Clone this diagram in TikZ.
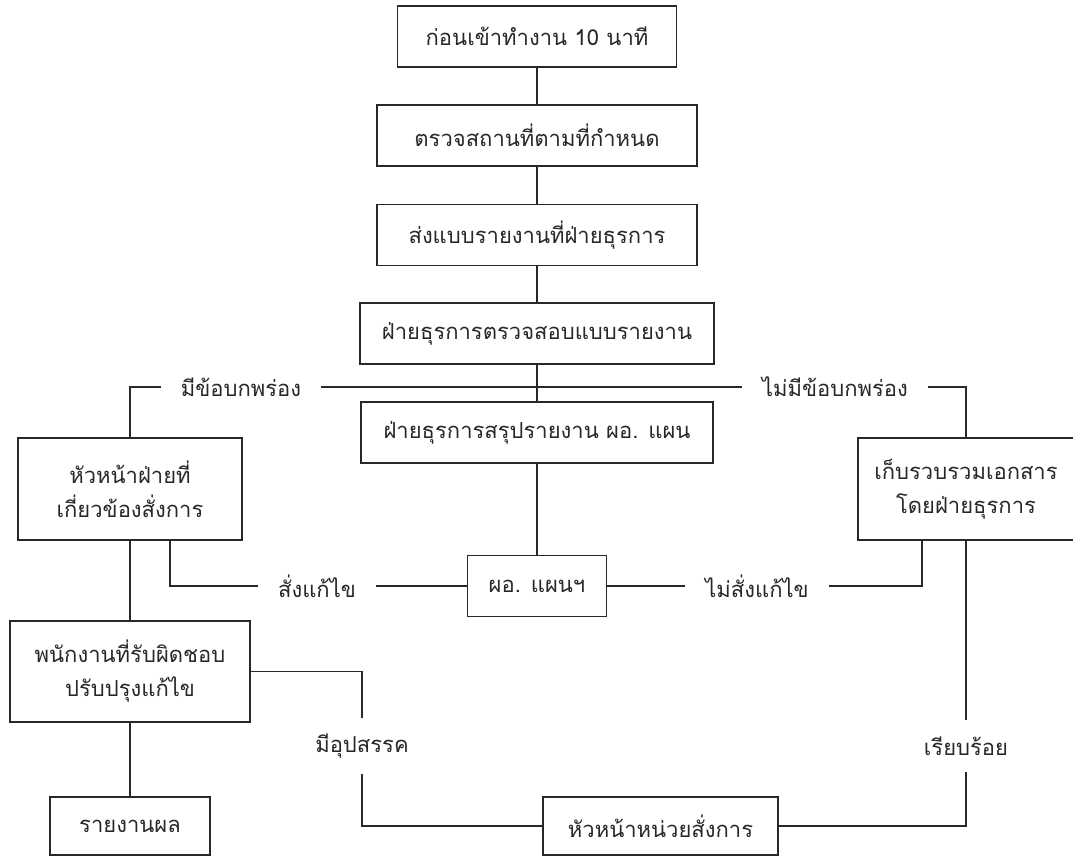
\documentclass[tikz,border=0pt]{standalone}
\usepackage{fontspec}
\newfontfamily\thaifont[Script=Thai]{Loma}
\usetikzlibrary{positioning,calc}
\definecolor{inkgray}{RGB}{40,40,40}

\begin{document}
\begin{tikzpicture}[
    x=1pt, y=-1pt,
    box/.style={rectangle, draw=inkgray, line width=1.3pt, align=center, minimum height=61pt, text=inkgray, font=\thaifont\fontsize{22}{34}\selectfont},
    tall/.style={box, minimum height=102pt},
    label/.style={inner xsep=20pt, inner ysep=16pt, text=inkgray, font=\thaifont\fontsize{22}{34}\selectfont},
    link/.style={draw=inkgray, line width=1.2pt}
]
\useasboundingbox (0,0) rectangle (1073,856);

% === MAIN COLUMN ===
\node[box, minimum width=279pt] (start) at (537, 36.5) {ก่อนเข้าทำงาน 10 นาที};
\node[box, minimum width=320pt] (check) at (537, 135.5) {ตรวจสถานที่ตามที่กำหนด};
\node[box, minimum width=320pt] (send) at (537, 235) {ส่งแบบรายงานที่ฝ่ายธุรการ};
\node[box, minimum width=354pt] (verify) at (537, 333.5) {ฝ่ายธุรการตรวจสอบแบบรายงาน};
\node[box, minimum width=352pt] (summary) at (537, 432.5) {ฝ่ายธุรการสรุปรายงาน ผอ. แผน};
\node[box, minimum width=139pt] (director) at (537, 586) {ผอ. แผนฯ};

\draw[link] (start) -- (check);
\draw[link] (check) -- (send);
\draw[link] (send) -- (verify);
\draw[link] (verify) -- (summary);
\draw[link] (summary) -- (director);

% === BRANCH ON CHECK RESULT ===
\node[label] (flaw) at (241, 387) {มีข้อบกพร่อง};
\node[label] (noflaw) at (835, 387) {ไม่มีข้อบกพร่อง};
\node[tall, minimum width=224pt] (head) at (130, 489) {หัวหน้าฝ่ายที่\\เกี่ยวข้องสั่งการ};
\node[tall, minimum width=216pt] (archive) at (966, 489) {เก็บรวบรวมเอกสาร\\โดยฝ่ายธุรการ};

\draw[link] (head) |- (flaw);
\draw[link] (flaw) -- (noflaw);
\draw[link] (noflaw) -| (archive);

% === DIRECTOR DECISION ===
\node[label] (fix) at (317, 586) {สั่งแก้ไข};
\node[label] (nofix) at (757, 586) {ไม่สั่งแก้ไข};

\draw[link] ([xshift=40pt]head.south) |- (fix);
\draw[link] (fix) -- (director);
\draw[link] (director) -- (nofix);
\draw[link] (nofix) -| ([xshift=-44pt]archive.south);

% === FOLLOW-UP ===
\node[tall, minimum width=240pt, minimum height=101pt] (staff) at (130, 671.5) {พนักงานที่รับผิดชอบ\\ปรับปรุงแก้ไข};
\node[box, minimum width=160pt, minimum height=58pt] (report) at (130, 826) {รายงานผล};
\node[box, minimum width=235pt, minimum height=58pt] (unit) at (660.5, 826) {หัวหน้าหน่วยสั่งการ};
\node[label] (obstacle) at (362, 746) {มีอุปสรรค};
\node[label] (done) at (966, 746) {เรียบร้อย};

\draw[link] (head) -- (staff);
\draw[link] (staff) -- (report);
\draw[link] (staff) -| (obstacle);
\draw[link] (obstacle) |- (unit);
\draw[link] (archive) -- (done);
\draw[link] (done) |- (unit);

\end{tikzpicture}
\end{document}
